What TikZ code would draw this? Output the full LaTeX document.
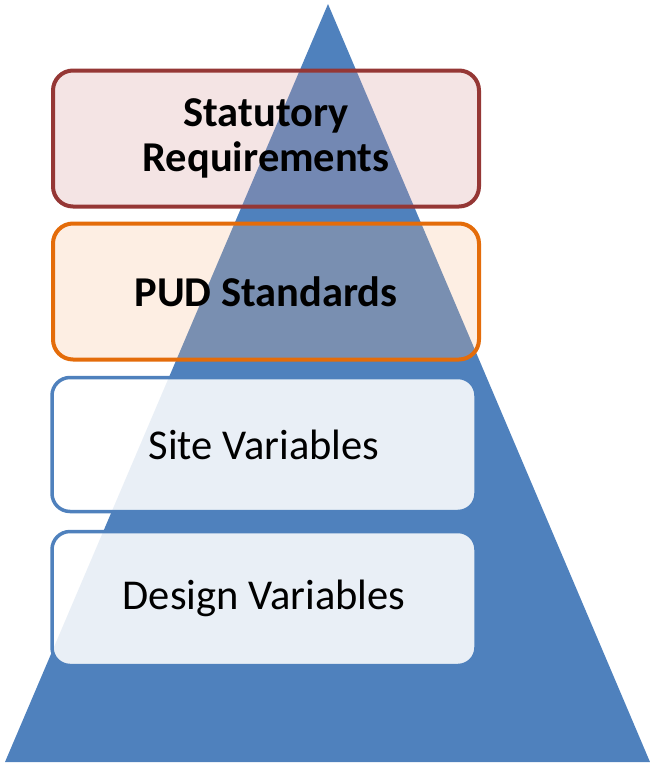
\documentclass[tikz,border=0pt]{standalone}
\usepackage{fontspec}
\setmainfont{Carlito}
\definecolor{pyr}{RGB}{79,129,189}
\definecolor{stat}{RGB}{149,55,53}
\definecolor{statfill}{RGB}{215,155,155}
\definecolor{pud}{RGB}{228,108,10}
\definecolor{pudfill}{RGB}{248,188,144}

\begin{document}
\begin{tikzpicture}[x=1pt, y=-1pt,
  tier/.style={rounded corners=20pt, line width=4pt, inner sep=0pt, align=center,
    text opacity=1, minimum width=426pt, minimum height=136pt,
    font=\fontsize{42.5}{45}\selectfont},
  lowtier/.style={tier, draw=pyr, fill=white, fill opacity=0.88, line width=3.5pt,
    rounded corners=18pt, minimum width=424pt, minimum height=134pt}]
\useasboundingbox (0,0) rectangle (650,763);

% pyramid behind the tiers
\fill[pyr] (5,762) -- (328,4) -- (650,762) -- cycle;

% top tiers, see-through
\node[tier, draw=stat, fill=statfill, fill opacity=0.27,
  font=\fontsize{42.5}{45}\selectfont\bfseries] (statreq) at (266,138.5) {Statutory\\Requirements};
\node[tier, draw=pud, fill=pudfill, fill opacity=0.25,
  font=\fontsize{42.5}{45}\selectfont\bfseries] (pudstd) at (266,291.5) {PUD Standards};

% bottom tiers
\node[lowtier] (sitevar) at (264,444.5) {Site Variables};
\node[lowtier] (designvar) at (264,598.5) {Design Variables};
\end{tikzpicture}
\end{document}
